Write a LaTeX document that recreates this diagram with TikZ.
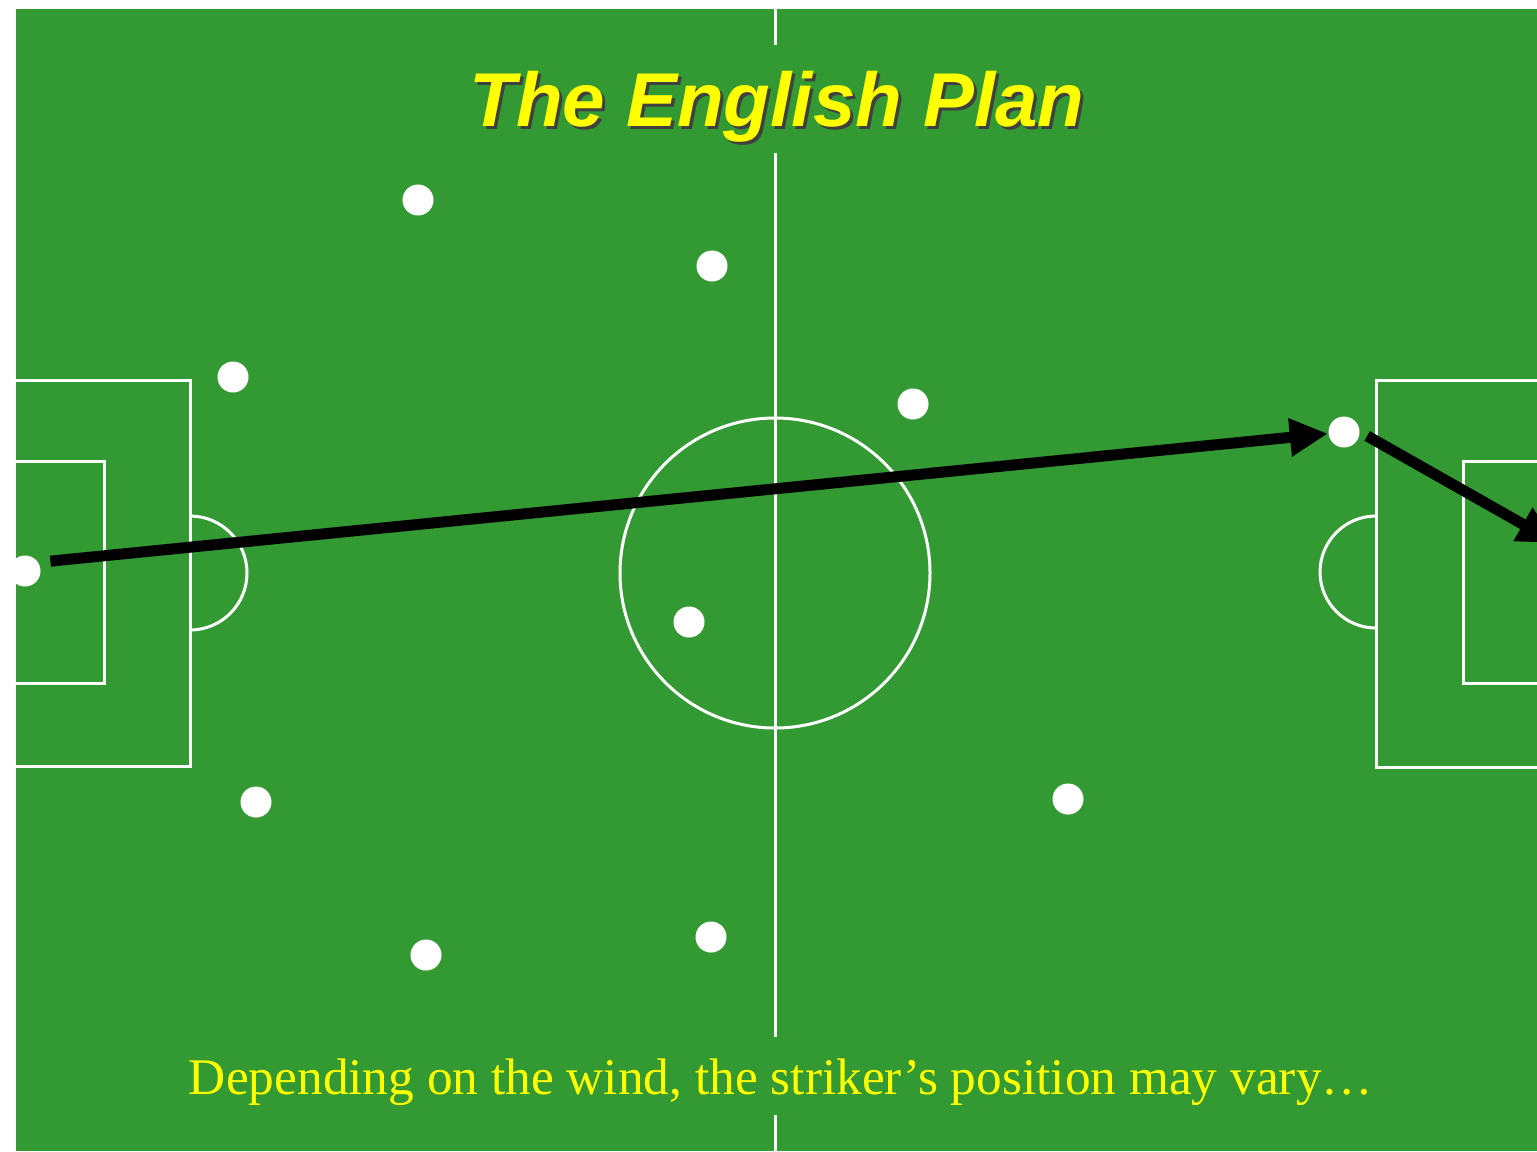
\documentclass[tikz,border=0pt]{standalone}
\usepackage{fontspec}
\setmainfont{Liberation Serif}
\newfontfamily\titlefont{Liberation Sans}
\usetikzlibrary{arrows.meta}
\definecolor{pitch}{HTML}{339933}
\definecolor{sunyellow}{HTML}{FFFF00}
\newcommand{\shadowed}[1]{\makebox[0pt][l]{\hspace{0.03cm}\raisebox{-0.03cm}{\color{black!75}#1}}#1}

\begin{document}
\begin{tikzpicture}[x=0.01cm, y=-0.01cm,
  fieldline/.style={draw=white, line width=0.03cm},
  player/.style={circle, fill=white, inner sep=0pt, minimum size=0.31cm},
  pass/.style={draw=black, line width=0.11cm, -{Triangle[length=0.38cm, width=0.36cm]}},
  titletext/.style={fill=pitch, text=sunyellow, inner sep=0pt, inner xsep=0.1cm, anchor=base, font=\titlefont\bfseries\itshape\fontsize{21.7}{24}\selectfont, text height=0.81cm, text depth=0.27cm},
  captext/.style={fill=pitch, text=sunyellow, inner sep=0pt, inner xsep=0.1cm, anchor=base, font=\fontsize{14.6}{17}\selectfont, text height=0.57cm, text depth=0.21cm},
]
\useasboundingbox (0,0) rectangle (1537,1151);
\clip (0,0) rectangle (1537,1151);
\fill[pitch] (16,9) rectangle (1537,1151);

% markings
\draw[fieldline] (775,9) -- (775,1151);
\draw[fieldline] (775,573) circle[radius=155];
\draw[fieldline] (16,380) -| (190,766) -- (16,766);
\draw[fieldline] (16,461) -| (104,683) -- (16,683);
\draw[fieldline] (190,516) arc[start angle=-90, end angle=90, radius=57];
\draw[fieldline] (1545,380) -| (1376,767) -- (1545,767);
\draw[fieldline] (1545,461) -| (1463,683) -- (1545,683);
\draw[fieldline] (1376,516) arc[start angle=-90, end angle=-270, radius=56];

\node[titletext] (title)   at (777,126)  {\shadowed{The English Plan}};
\node[captext]   (caption) at (781,1094) {Depending on the wind, the striker’s position may vary…};

% players
\node[player] (keeper)     at (25,571)   {};
\node[player] (backtop)    at (233,377)  {};
\node[player] (backbottom) at (256,802)  {};
\node[player] (wingtop)    at (418,200)  {};
\node[player] (wingbottom) at (426,955)  {};
\node[player] (midtop)     at (712,266)  {};
\node[player] (midbottom)  at (711,937)  {};
\node[player] (midcentre)  at (689,622)  {};
\node[player] (fwdtop)     at (913,404)  {};
\node[player] (fwdbottom)  at (1068,799) {};
\node[player] (striker)    at (1344,432) {};
\coordinate (goal) at (1556,543);

\draw[pass, shorten <=0.14cm] ([yshift=-0.03cm]keeper.north east) -- (striker);
\draw[pass, shorten <=0.08cm] (striker.east) -- (goal);
\end{tikzpicture}
\end{document}
